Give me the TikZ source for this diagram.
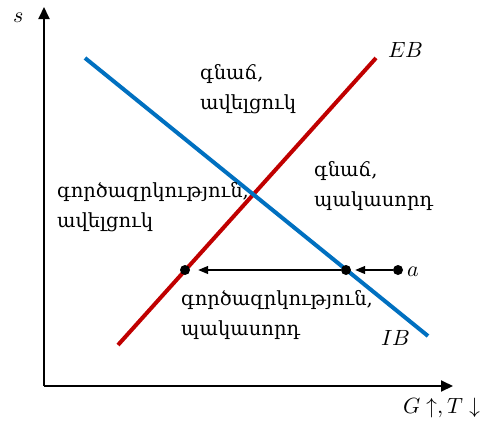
\documentclass[tikz,border=0pt]{standalone}
\usepackage{fontspec}
\usepackage{unicode-math}
\setmathfont{Latin Modern Math}
\newfontfamily\armfont{DejaVu Serif}
\usetikzlibrary{arrows.meta, positioning}
\definecolor{ibblue}{HTML}{0070C0}
\definecolor{ebred}{HTML}{C00000}
\tikzset{
    axis/.style={line width=2pt, -{Triangle[length=12pt, width=11pt]}},
    ibline/.style={line width=4pt, ibblue},
    ebline/.style={line width=4pt, ebred},
    dot/.style={circle, fill=black, minimum size=10pt, inner sep=0pt},
    moveline/.style={line width=1.3pt, -{Triangle[length=10pt, width=8pt]}},
    region/.style={align=left, anchor=base west, inner sep=0pt,
                   font=\armfont\fontsize{19.5pt}{30pt}\selectfont},
    mlbl/.style={inner sep=0pt, font=\fontsize{22pt}{26pt}\selectfont},
}
\begin{document}
\begin{tikzpicture}[x=1pt, y=-1pt]
    \useasboundingbox (0,0) rectangle (487,429);

    % ── AXES ──
    \coordinate (o) at (44,386);
    \coordinate (ytop) at (44,7);
    \coordinate (xend) at (453,386);
    \draw[axis] (o) -- (ytop);
    \draw[axis] (o) -- (xend);
    \node[mlbl] (s) at (19,18) {$s$};
    \node[mlbl, anchor=base west] (gt) at (403,413) {$G\uparrow, T\downarrow$};

    % ── CURVES ──
    \coordinate (ib1) at (85,58);
    \coordinate (ib2) at (428,336);
    \coordinate (eb1) at (118,345);
    \coordinate (eb2) at (376,58);
    \draw[ebline] (eb1) -- (eb2);
    \draw[ibline] (ib1) -- (ib2);
    \node[mlbl, anchor=base west] (eb) at (388,57) {$EB$};
    \node[mlbl, anchor=base west] (ib) at (381,345) {$IB$};

    % ── POINTS ──
    \node[dot] (pl) at (185,270) {};
    \node[dot] (pm) at (346,270) {};
    \node[dot] (pa) at (398,270) {};
    \node[mlbl, anchor=base west] (a) at (407,276) {$a$};
    \draw[moveline, shorten >=8pt] (pm) -- (pl);
    \draw[moveline, shorten >=4pt] (pa) -- (pm);

    % ── REGIONS (anchor = last line) ──
    \node[region] (r1) at (200,109) {գնաճ,\\ավելցուկ};
    \node[region] (r2) at (57,227) {գործազրկություն,\\ավելցուկ};
    \node[region] (r3) at (314,206) {գնաճ,\\պակասորդ};
    \node[region] (r4) at (181,335) {գործազրկություն,\\պակասորդ};

\end{tikzpicture}
\end{document}
